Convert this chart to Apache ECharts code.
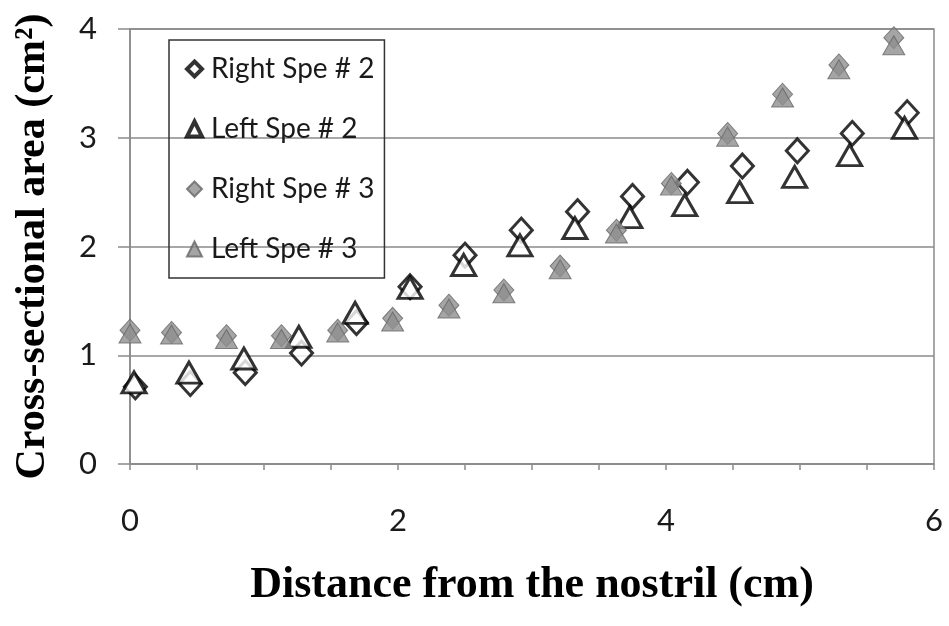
<!DOCTYPE html>
<html>
<head>
<meta charset="utf-8">
<script src="https://cdn.jsdelivr.net/npm/echarts@6/dist/echarts.min.js"></script>
<style>html,body{margin:0;padding:0;background:#fff}#c{width:949px;height:626px}</style>
</head>
<body>
<div id="c"></div>
<script>
const seriesNames = ['Right Spe # 2', 'Left Spe # 2', 'Right Spe # 3', 'Left Spe # 3'];
const right2 = [[0.04,0.71],[0.45,0.74],[0.86,0.84],[1.28,1.02],[1.69,1.30],[2.09,1.63],[2.50,1.92],[2.92,2.15],[3.34,2.32],[3.75,2.46],[4.16,2.59],[4.57,2.74],[4.98,2.88],[5.39,3.04],[5.80,3.23]];
const left2 = [[0.03,0.75],[0.44,0.84],[0.85,0.97],[1.26,1.17],[1.68,1.39],[2.09,1.62],[2.49,1.83],[2.91,2.01],[3.32,2.17],[3.73,2.27],[4.14,2.38],[4.55,2.50],[4.96,2.64],[5.37,2.84],[5.78,3.09]];
const right3 = [[0.00,1.23],[0.31,1.21],[0.72,1.18],[1.13,1.18],[1.55,1.23],[1.96,1.34],[2.38,1.46],[2.79,1.60],[3.21,1.82],[3.63,2.15],[4.04,2.58],[4.46,3.04],[4.87,3.40],[5.29,3.67],[5.70,3.92]];
const left3 = [[0.00,1.20],[0.31,1.19],[0.72,1.15],[1.13,1.15],[1.55,1.21],[1.96,1.31],[2.38,1.43],[2.79,1.57],[3.21,1.79],[3.63,2.12],[4.04,2.56],[4.46,3.01],[4.87,3.37],[5.29,3.63],[5.70,3.85]];
const xTickLabels = ['0','2','4','6'];
const yTickLabels = ['0','1','2','3','4'];

const hollow = {color:'#ffffff', borderColor:'#000000', borderWidth:3};
const grey = {color:'#8f8f8f', borderColor:'#666666', borderWidth:1};

const chart = echarts.init(document.getElementById('c'));
chart.setOption({
  animation:false,
  backgroundColor:'#ffffff',
  grid:{left:130, right:15, top:29, bottom:162, show:true, borderColor:'#8a8a8a', borderWidth:1.5},
  xAxis:{
    type:'value', min:0, max:6, interval:0.5,
    axisLine:{lineStyle:{color:'#8a8a8a', width:1.5}},
    axisTick:{show:true, length:6, lineStyle:{color:'#8a8a8a', width:1.5}},
    splitLine:{show:false},
    axisLabel:{
      margin:41, color:'#1a1a1a', fontFamily:'Lato', fontSize:31,
      formatter:function(v){ const s = String(v); return xTickLabels.indexOf(s) >= 0 ? s : ''; }
    },
    name:'Distance from the nostril (cm)', nameLocation:'middle', nameGap:100,
    nameTextStyle:{fontFamily:'Liberation Serif', fontWeight:'bold', fontSize:44, color:'#000'}
  },
  yAxis:{
    type:'value', min:0, max:4, interval:1,
    axisLine:{show:true, lineStyle:{color:'#8a8a8a', width:1.5}},
    axisTick:{show:true, length:12, lineStyle:{color:'#8a8a8a', width:1.5}},
    splitLine:{show:true, lineStyle:{color:'#8a8a8a', width:1.5}},
    axisLabel:{
      margin:33, color:'#1a1a1a', fontFamily:'Lato', fontSize:31,
      formatter:function(v){ const s = String(v); return yTickLabels.indexOf(s) >= 0 ? s : ''; }
    },
    name:'Cross-sectional area (cm²)', nameLocation:'middle', nameGap:76,
    nameTextStyle:{fontFamily:'Liberation Serif', fontWeight:'bold', fontSize:42, color:'#000'}
  },
  legend:{
    orient:'vertical', left:169, top:40,
    padding:[15, 10, 15, 16], itemGap:32,
    itemWidth:15, itemHeight:15,
    borderColor:'#333', borderWidth:1.5,
    backgroundColor:'transparent',
    textStyle:{fontFamily:'Lato', fontSize:28, color:'#1a1a1a', lineHeight:24, padding:[0,0,0,4]},
    data:[
      {name:seriesNames[0], itemStyle:{color:'#ffffff', borderColor:'#000000', borderWidth:4}},
      {name:seriesNames[1], itemStyle:{color:'#ffffff', borderColor:'#000000', borderWidth:4}},
      {name:seriesNames[2]},
      {name:seriesNames[3]}
    ]
  },
  series:[
    {name:seriesNames[0], type:'scatter', data:right2, symbol:'diamond', symbolSize:[22,24], itemStyle:hollow},
    {name:seriesNames[1], type:'scatter', data:left2, symbol:'triangle', symbolSize:[24,21], itemStyle:hollow},
    {name:seriesNames[2], type:'scatter', data:right3, symbol:'diamond', symbolSize:[20,22], itemStyle:grey},
    {name:seriesNames[3], type:'scatter', data:left3, symbol:'triangle', symbolSize:[22,19], itemStyle:grey}
  ]
});
</script>
</body>
</html>
